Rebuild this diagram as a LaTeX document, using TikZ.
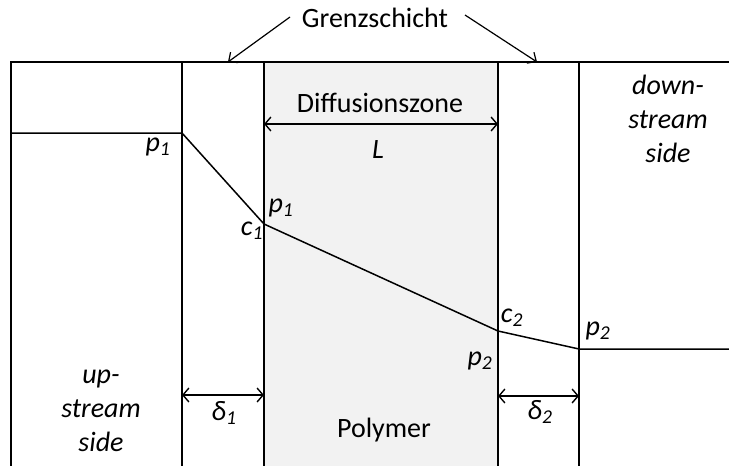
\documentclass[tikz,border=0pt]{standalone}
\usepackage{fontspec}
\setmainfont{Carlito}
\usetikzlibrary{arrows.meta}
\begin{document}
\begin{tikzpicture}[x=1pt,y=-1pt,
  ln/.style={line width=1.5pt},
  dim/.style={line width=1.4pt,{Straight Barb[length=6pt,width=14pt]}-{Straight Barb[length=6pt,width=14pt]}},
  ptr/.style={line width=1.2pt,-{Straight Barb[length=7pt,width=13pt]}},
  lbl/.style={inner sep=0pt,anchor=base,font=\fontsize{28}{34}\selectfont},
  ilbl/.style={lbl,font=\fontsize{28}{34}\selectfont\itshape},
  blk/.style={inner sep=0pt,align=center,font=\fontsize{28}{34}\selectfont\itshape}]
\useasboundingbox (0,0) rectangle (729,466);
\fill[black!5] (264,62) rectangle (498,466);
% coordinates
\coordinate (tl) at (11,62);
\coordinate (tr) at (729,62);
\coordinate (bl) at (11,466);
\coordinate (a1) at (182,62);
\coordinate (a2) at (264,62);
\coordinate (a3) at (498,62);
\coordinate (a4) at (579,62);
\coordinate (b1) at (182,466);
\coordinate (b2) at (264,466);
\coordinate (b3) at (498,466);
\coordinate (b4) at (579,466);
\coordinate (l0) at (11,133);
\coordinate (k1) at (182,133);
\coordinate (k2) at (264,224);
\coordinate (k3) at (498,331);
\coordinate (k4) at (579,349);
\coordinate (r0) at (729,349);
\coordinate (g1) at (228,62);
\coordinate (g2) at (537,62);
\coordinate (s1) at (290,17);
\coordinate (s2) at (465,15);
\draw[ln] (bl) -- (tl) -- (tr);
\draw[ln] (a1) -- (b1);
\draw[ln] (a2) -- (b2);
\draw[ln] (a3) -- (b3);
\draw[ln] (a4) -- (b4);
\draw[ln,line join=round] (l0) -- (k1) -- (k2) -- (k3) -- (k4) -- (r0);
% Grenzschicht
\node[lbl] (gs) at (375,27) {Grenzschicht};
\draw[ptr] (s1) -- (g1);
\draw[ptr] (s2) -- (g2);
% Diffusionszone
\node[lbl] (dz) at (380,112) {Diffusionszone};
\coordinate (dzl) at (264,124);
\coordinate (dzr) at (498,124);
\draw[dim] (dzl) -- (dzr);
\node[ilbl] (L) at (378,158) {L};
% deltas
\coordinate (d1l) at (182,395);
\coordinate (d1r) at (264,395);
\draw[dim] (d1l) -- (d1r);
\node[ilbl] (d1) at (224,420) {δ\textsubscript{1}};
\coordinate (d2l) at (498,396);
\coordinate (d2r) at (579,396);
\draw[dim] (d2l) -- (d2r);
\node[ilbl] (d2) at (540,419) {δ\textsubscript{2}};
% labels
\node[ilbl] (p1a) at (158,151) {p\textsubscript{1}};
\node[ilbl] (p1b) at (281,212) {p\textsubscript{1}};
\node[ilbl] (c1) at (252,235) {c\textsubscript{1}};
\node[ilbl] (c2) at (512,322) {c\textsubscript{2}};
\node[ilbl] (p2a) at (480,365) {p\textsubscript{2}};
\node[ilbl] (p2b) at (598,335) {p\textsubscript{2}};
\node[blk] (up) at (101,411) {up-\\stream\\side};
\node[blk] (down) at (668,119) {down-\\stream\\side};
\node[lbl] (poly) at (384,437) {Polymer};
\end{tikzpicture}
\end{document}
